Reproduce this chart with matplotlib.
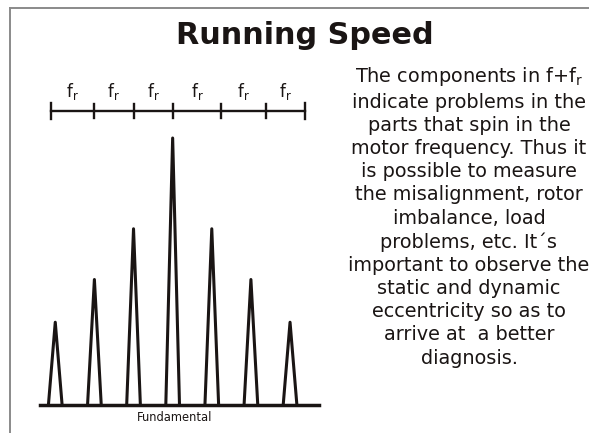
import matplotlib
matplotlib.use('Agg')
import matplotlib.pyplot as plt
from matplotlib.lines import Line2D

# Data
harmonics = [-3, -2, -1, 0, 1, 2, 3]
amplitudes = [0.31, 0.47, 0.66, 1.0, 0.66, 0.47, 0.31]
bar_ticks = [-3.12, -2.01, -1.0, 0.0, 1.24, 2.38, 3.37]
bar_label = 'f$_\\mathregular{r}$'
title = 'Running Speed'
x_label = 'Fundamental'
note = ('The components in f+f$_\\mathregular{r}$\n'
        'indicate problems in the\n'
        'parts that spin in the\n'
        'motor frequency. Thus it\n'
        'is possible to measure\n'
        'the misalignment, rotor\n'
        'imbalance, load\n'
        'problems, etc. It\u00b4s\n'
        'important to observe the\n'
        'static and dynamic\n'
        'eccentricity so as to\n'
        'arrive at  a better\n'
        'diagnosis.')

plt.rcParams['font.family'] = 'DejaVu Sans'
ink = '#1a1514'

fig = plt.figure(figsize=(5.89, 4.33), dpi=100)

# Grey frame on top and left
fig.add_artist(Line2D([10/589, 1], [1 - 8/433, 1 - 8/433], color='#8a8a8a', lw=1.4))
fig.add_artist(Line2D([10/589, 10/589], [0, 1 - 8/433], color='#8a8a8a', lw=1.4))

ax = fig.add_axes([40/589, 28/433, 279/589, 1.3*267/433])
ax.set_xlim(-3.39, 3.74)
ax.set_ylim(0, 1.3)
ax.axis('off')

# Spectrum peaks
w = 0.175
for h, a in zip(harmonics, amplitudes):
    ax.plot([h - w, h, h + w], [0, a, 0], color=ink, lw=2.2, clip_on=False)
ax.axhline(0, color=ink, lw=2.5, clip_on=False)
ax.text(0.06, -0.06, x_label, ha='center', va='baseline', fontsize=8.3, color=ink)

# Scale bar with f_r spacing
bar_y = 1.101
ax.plot([bar_ticks[0], bar_ticks[-1]], [bar_y, bar_y], color=ink, lw=1.7, clip_on=False)
for i, t in enumerate(bar_ticks):
    half = 0.03 if i in (0, len(bar_ticks) - 1) else 0.025
    ax.plot([t, t], [bar_y - half, bar_y + half], color=ink, lw=1.7, clip_on=False)
for a, b in zip(bar_ticks[:-1], bar_ticks[1:]):
    ax.text((a + b) / 2, 1.154, bar_label, ha='center', va='baseline',
            fontsize=12, color=ink)

fig.text(305/589, 1 - 43.5/433, title, ha='center', va='baseline',
         fontsize=21.8, fontweight='bold', color=ink)
# multi-line text: baseline alignment refers to the last line
fig.text(469/589, 1 - 363.5/433, note, ha='center', va='baseline',
         multialignment='center', fontsize=13.9, linespacing=1.28, color=ink)

fig.savefig('out.png', dpi=100)
